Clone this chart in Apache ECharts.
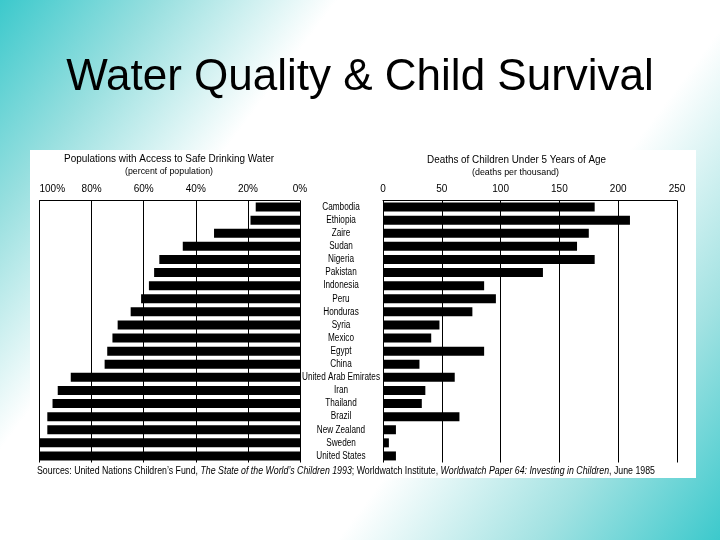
<!DOCTYPE html>
<html>
<head>
<meta charset="utf-8">
<script src="https://cdn.jsdelivr.net/npm/echarts@6/dist/echarts.min.js"></script>
<style>
html,body{margin:0;padding:0;background:#fff;}
#chart{width:720px;height:540px;}
</style>
</head>
<body>
<div id="chart"></div>
<script>
const countries = ['Cambodia','Ethiopia','Zaire','Sudan','Nigeria','Pakistan','Indonesia','Peru','Honduras','Syria','Mexico','Egypt','China','United Arab Emirates','Iran','Thailand','Brazil','New Zealand','Sweden','United States'];
const waterAccess = [17,19,33,45,54,56,58,61,65,70,72,74,75,88,93,95,97,97,100,100];
const childDeaths = [180,210,175,165,180,136,86,96,76,48,41,86,31,61,36,33,65,11,5,11];
const waterTicks = [0,20,40,60,80,100];
const deathTicks = [0,50,100,150,200,250];

const FONT = '"Liberation Sans", Arial, sans-serif';
const ctx = document.createElement('canvas').getContext('2d');
function textW(text, font){ ctx.font = font; return ctx.measureText(text).width; }
function fit(text, font, target){ return target / textW(text, font); }

const srcParts = [
  ['n','Sources: United Nations Children\u2019s Fund, '],
  ['i','The State of the World\u2019s Children 1993'],
  ['n','; Worldwatch Institute, '],
  ['i','Worldwatch Paper 64: Investing in Children'],
  ['n',', June 1985']
];
let srcW = 0;
srcParts.forEach(p => { srcW += textW(p[1], (p[0]==='i'?'italic ':'') + '10px ' + FONT); });
const srcScale = 618 / srcW;
const labelScale = fit('United Arab Emirates', '10px ' + FONT, 78);

function hdr(text, cx, cy, size, target){
  const font = size + 'px ' + FONT;
  return {type:'text', x:cx, y:cy, scaleX:fit(text, font, target),
    style:{text:text, fill:'#000', font:font, textAlign:'center', textVerticalAlign:'middle'}};
}

const chart = echarts.init(document.getElementById('chart'), null, {renderer:'canvas', width:720, height:540});

const gridTop = 200.5, gridH = 262;
const option = {
  animation: false,
  graphic: [
    {type:'rect', z:-10, silent:true, shape:{x:0,y:0,width:720,height:540},
     style:{fill:new echarts.graphic.LinearGradient(0,0,1,1,[
       {offset:0,color:'#3cc9cc'},{offset:0.14,color:'#97dfdf'},{offset:0.3,color:'#ffffff'},{offset:0.66,color:'#ffffff'},{offset:0.84,color:'#a2e2e2'},{offset:1,color:'#3cc9cc'}])}},
    {type:'rect', z:-9, silent:true, shape:{x:30,y:150,width:666,height:328}, style:{fill:'#ffffff'}},
    {type:'text', left:'center', top:56, style:{text:'Water Quality & Child Survival', fill:'#000', font:'44px ' + FONT}},
    hdr('Populations with Access to Safe Drinking Water', 169, 159, 11, 210),
    hdr('(percent of population)', 169, 171.5, 9, 88),
    hdr('Deaths of Children Under 5 Years of Age', 516.5, 160, 11, 179),
    hdr('(deaths per thousand)', 515.5, 173, 9, 87),
    {type:'text', x:37, y:471, scaleX:srcScale, style:{
      text: srcParts.map(p => '{' + p[0] + '|' + p[1] + '}').join(''),
      textVerticalAlign:'middle',
      rich:{n:{fontSize:10,fontFamily:FONT,color:'#000'}, i:{fontSize:10,fontFamily:FONT,fontStyle:'italic',color:'#000'}}
    }}
  ],
  grid: [
    {left:39.5, top:gridTop, width:260.5, height:gridH, containLabel:false},
    {left:383, top:gridTop, width:294, height:gridH, containLabel:false}
  ],
  xAxis: [
    {gridIndex:0, type:'value', position:'top', inverse:true, min:waterTicks[0], max:waterTicks[waterTicks.length-1], interval:waterTicks[1]-waterTicks[0],
     axisLine:{show:true, lineStyle:{color:'#000',width:1}}, axisTick:{show:false},
     axisLabel:{formatter:'{value}%', color:'#000', fontSize:10, fontFamily:FONT, margin:6, alignMaxLabel:'left'},
     splitLine:{show:true, lineStyle:{color:'#000',width:1}}},
    {gridIndex:1, type:'value', position:'top', min:deathTicks[0], max:deathTicks[deathTicks.length-1], interval:deathTicks[1]-deathTicks[0],
     axisLine:{show:true, lineStyle:{color:'#000',width:1}}, axisTick:{show:false},
     axisLabel:{color:'#000', fontSize:10, fontFamily:FONT, margin:6},
     splitLine:{show:true, lineStyle:{color:'#000',width:1}}}
  ],
  yAxis: [
    {gridIndex:0, type:'category', data:countries, inverse:true, axisLine:{show:false}, axisTick:{show:false}, axisLabel:{show:false}, splitLine:{show:false}},
    {gridIndex:1, type:'category', data:countries, inverse:true, axisLine:{show:false}, axisTick:{show:false}, axisLabel:{show:false}, splitLine:{show:false}}
  ],
  series: [
    {type:'bar', xAxisIndex:0, yAxisIndex:0, data:waterAccess, barWidth:9, itemStyle:{color:'#000'}, z:3},
    {type:'bar', xAxisIndex:1, yAxisIndex:1, data:childDeaths, barWidth:9, itemStyle:{color:'#000'}, z:3},
    {type:'custom', xAxisIndex:1, yAxisIndex:1, clip:false, silent:true, z:4,
     data: countries.map((c, i) => [0, i]),
     renderItem: function(params, api){
       const pt = api.coord([0, api.value(1)]);
       return {type:'text', x:pt[0] - 42, y:pt[1], scaleX:labelScale,
         style:{text:countries[params.dataIndex], fill:'#000', font:'10px ' + FONT, textAlign:'center', textVerticalAlign:'middle'}};
     }}
  ]
};
chart.setOption(option);
</script>
</body>
</html>
